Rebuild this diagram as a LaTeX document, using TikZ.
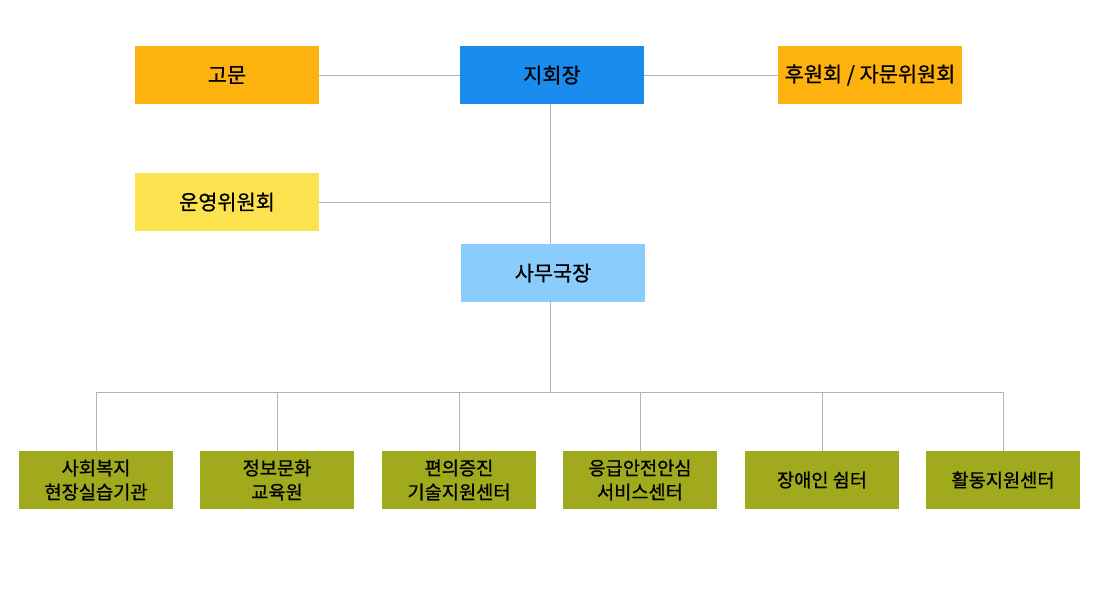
\documentclass[tikz,border=0pt]{standalone}
\usepackage{fontspec}
\setmainfont{Noto Sans CJK KR}[FakeBold=0.8]
\usepackage{tikz}
\usetikzlibrary{positioning}
\definecolor{orgbox}{HTML}{FDB20F}
\definecolor{headbox}{HTML}{1A8CEE}
\definecolor{opbox}{HTML}{FCE24E}
\definecolor{chiefbox}{HTML}{8ACCFC}
\definecolor{unitbox}{HTML}{A0AA1C}
\definecolor{linkgray}{HTML}{B4B4B4}
\tikzstyle{topbox} = [rectangle, text centered, inner sep=0pt, minimum width=138pt, minimum height=43.5pt, font=\fontsize{15.6pt}{18pt}\selectfont]
\tikzstyle{unit} = [rectangle, align=center, inner sep=0pt, minimum width=115.5pt, minimum height=43.5pt, fill=unitbox, font=\fontsize{14pt}{18pt}\selectfont]
\tikzstyle{link} = [draw=linkgray, line width=0.75pt]

\begin{document}
\begin{tikzpicture}[x=0.75pt, y=-0.75pt]
  \useasboundingbox (0,0) rectangle (1100,600);

  \node (gomun) [topbox, fill=orgbox] at (227,75) {고문};
  \node (jihoe) [topbox, fill=headbox] at (552,75) {지회장};
  \node (huwon) [topbox, fill=orgbox] at (870,75) {후원회 / 자문위원회};
  \node (unyeong) [topbox, fill=opbox] at (227,202) {운영위원회};
  \node (samu) [topbox, fill=chiefbox] at (553,273) {사무국장};

  \node (u1) [unit] at (96,480) {사회복지\\현장실습기관};
  \node (u2) [unit] at (277,480) {정보문화\\교육원};
  \node (u3) [unit] at (459,480) {편의증진\\기술지원센터};
  \node (u4) [unit] at (640,480) {응급안전안심\\서비스센터};
  \node (u5) [unit] at (822,480) {장애인 쉼터};
  \node (u6) [unit] at (1003,480) {활동지원센터};

  \coordinate (bus) at (550,392);

  \draw [link] (gomun) -- (jihoe);
  \draw [link] (jihoe) -- (huwon);
  \draw [link] (jihoe.south -| bus) -- (samu.north -| bus);
  \draw [link] (unyeong.east) -- (unyeong.east -| bus);
  \draw [link] (samu.south -| bus) -- (bus);
  \draw [link] (u1.north |- bus) -- (u6.north |- bus);
  \foreach \i in {1,...,6}
    \draw [link] (u\i.north) -- (u\i.north |- bus);
\end{tikzpicture}
\end{document}
